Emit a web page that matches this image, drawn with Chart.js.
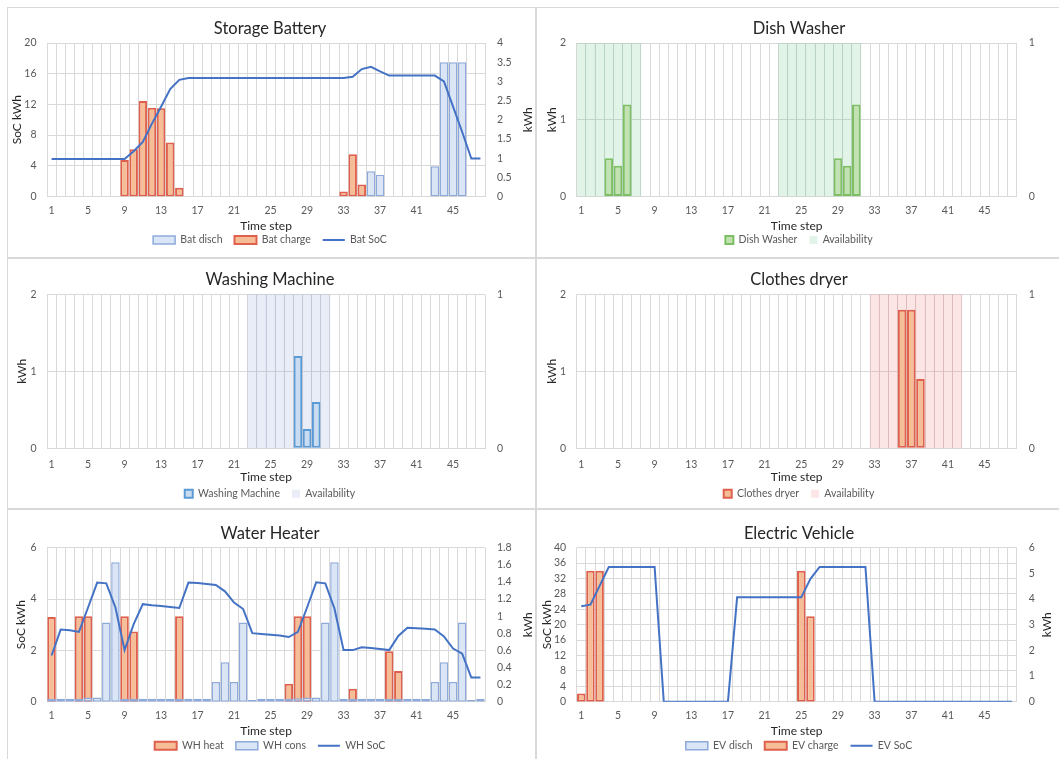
<!DOCTYPE html>
<html lang="en">
<head>
<meta charset="utf-8">
<title>Home energy schedule</title>
<script src="https://cdn.jsdelivr.net/npm/chart.js@4.4.1/dist/chart.umd.min.js"></script>
<style>
  html, body { margin: 0; padding: 0; background: #fff; overflow: hidden; }
  body { width: 1059px; height: 759px; position: relative; }
  .panel { position: absolute; width: 529px; height: 251px; background: #fff; }
  .panel canvas { position: absolute; left: 0; top: 0; }
  .panel .frame { position: absolute; left: 0; top: 0; right: 0; bottom: 0; border: 1px solid #d9d9d9; pointer-events: none; }
</style>
</head>
<body>
<div class="panel" style="left:7px;top:7px"><canvas id="c-bat" width="529" height="251"></canvas><div class="frame"></div></div>
<div class="panel" style="left:536px;top:7px"><canvas id="c-dw" width="529" height="251"></canvas><div class="frame"></div></div>
<div class="panel" style="left:7px;top:258px"><canvas id="c-wm" width="529" height="251"></canvas><div class="frame"></div></div>
<div class="panel" style="left:536px;top:258px"><canvas id="c-cd" width="529" height="251"></canvas><div class="frame"></div></div>
<div class="panel" style="left:7px;top:509px"><canvas id="c-wh" width="529" height="251"></canvas><div class="frame"></div></div>
<div class="panel" style="left:536px;top:509px"><canvas id="c-ev" width="529" height="251"></canvas><div class="frame"></div></div>
<script>
/* Household schedule: six Excel style panels over 48 time steps. */
var STEPS = ["1", "2", "3", "4", "5", "6", "7", "8", "9", "10", "11", "12",
  "13", "14", "15", "16", "17", "18", "19", "20", "21", "22", "23", "24",
  "25", "26", "27", "28", "29", "30", "31", "32", "33", "34", "35", "36",
  "37", "38", "39", "40", "41", "42", "43", "44", "45", "46", "47", "48"];

// axis ranges: [min, max, step]
var BAT_SOC_AXIS = [0, 20, 4];
var BAT_KWH_AXIS = [0, 4, 0.5];
var LOAD_AXIS = [0, 2, 1];
var AVAIL_AXIS = [0, 1, 1];
var WH_SOC_AXIS = [0, 6, 2];
var WH_KWH_AXIS = [0, 1.8, 0.2];
var EV_SOC_AXIS = [0, 40, 4];
var EV_KWH_AXIS = [0, 6, 1];

var BAT_DISCH = [0, 0, 0, 0, 0, 0, 0, 0, 0, 0, 0, 0,
  0, 0, 0, 0, 0, 0, 0, 0, 0, 0, 0, 0,
  0, 0, 0, 0, 0, 0, 0, 0, 0, 0, 0, 0.66,
  0.57, 0, 0, 0, 0, 0, 0.79, 3.5, 3.5, 3.5, 0, 0];
var BAT_CHARGE = [0, 0, 0, 0, 0, 0, 0, 0, 0.95, 1.23, 2.49, 2.31,
  2.30, 1.41, 0.23, 0, 0, 0, 0, 0, 0, 0, 0, 0,
  0, 0, 0, 0, 0, 0, 0, 0, 0.13, 1.10, 0.31, 0,
  0, 0, 0, 0, 0, 0, 0, 0, 0, 0, 0, 0];
var BAT_SOC = [4.9, 4.9, 4.9, 4.9, 4.9, 4.9, 4.9, 4.9, 4.9, 5.9, 7.1, 9.5,
  11.7, 14.0, 15.2, 15.45, 15.45, 15.45, 15.45, 15.45, 15.45, 15.45, 15.45, 15.45,
  15.45, 15.45, 15.45, 15.45, 15.45, 15.45, 15.45, 15.45, 15.45, 15.6, 16.6, 16.9,
  16.3, 15.75, 15.75, 15.75, 15.75, 15.75, 15.75, 15.0, 11.7, 8.4, 4.95, 4.95];

var DW_LOAD = [0, 0, 0, 0.5, 0.4, 1.2, 0, 0, 0, 0, 0, 0,
  0, 0, 0, 0, 0, 0, 0, 0, 0, 0, 0, 0,
  0, 0, 0, 0, 0.5, 0.4, 1.2, 0, 0, 0, 0, 0,
  0, 0, 0, 0, 0, 0, 0, 0, 0, 0, 0, 0];
var DW_AVAIL = [1, 1, 1, 1, 1, 1, 1, 0, 0, 0, 0, 0,
  0, 0, 0, 0, 0, 0, 0, 0, 0, 0, 1, 1,
  1, 1, 1, 1, 1, 1, 1, 0, 0, 0, 0, 0,
  0, 0, 0, 0, 0, 0, 0, 0, 0, 0, 0, 0];

var WM_LOAD = [0, 0, 0, 0, 0, 0, 0, 0, 0, 0, 0, 0,
  0, 0, 0, 0, 0, 0, 0, 0, 0, 0, 0, 0,
  0, 0, 0, 1.2, 0.25, 0.6, 0, 0, 0, 0, 0, 0,
  0, 0, 0, 0, 0, 0, 0, 0, 0, 0, 0, 0];
var WM_AVAIL = [0, 0, 0, 0, 0, 0, 0, 0, 0, 0, 0, 0,
  0, 0, 0, 0, 0, 0, 0, 0, 0, 0, 1, 1,
  1, 1, 1, 1, 1, 1, 1, 0, 0, 0, 0, 0,
  0, 0, 0, 0, 0, 0, 0, 0, 0, 0, 0, 0];

var CD_LOAD = [0, 0, 0, 0, 0, 0, 0, 0, 0, 0, 0, 0,
  0, 0, 0, 0, 0, 0, 0, 0, 0, 0, 0, 0,
  0, 0, 0, 0, 0, 0, 0, 0, 0, 0, 0, 1.8,
  1.8, 0.9, 0, 0, 0, 0, 0, 0, 0, 0, 0, 0];
var CD_AVAIL = [0, 0, 0, 0, 0, 0, 0, 0, 0, 0, 0, 0,
  0, 0, 0, 0, 0, 0, 0, 0, 0, 0, 0, 0,
  0, 0, 0, 0, 0, 0, 0, 0, 1, 1, 1, 1,
  1, 1, 1, 1, 1, 1, 0, 0, 0, 0, 0, 0];

var WH_HEAT = [0.99, 0, 0, 1, 1, 0, 0, 0, 1, 0.82, 0, 0,
  0, 0, 1, 0, 0, 0, 0, 0, 0, 0, 0, 0,
  0, 0, 0.21, 1, 1, 0, 0, 0, 0, 0.15, 0, 0,
  0, 0.59, 0.36, 0, 0, 0, 0, 0, 0, 0, 0, 0];
var WH_CONS = [0.035, 0.035, 0.035, 0.035, 0.05, 0.05, 0.925, 1.63, 0.035, 0.035, 0.035, 0.035,
  0.035, 0.035, 0.035, 0.035, 0.035, 0.035, 0.23, 0.46, 0.23, 0.925, 0.02, 0.035,
  0.035, 0.035, 0.035, 0.04, 0.05, 0.05, 0.925, 1.63, 0.035, 0.035, 0.035, 0.035,
  0.035, 0.035, 0.035, 0.035, 0.035, 0.035, 0.23, 0.46, 0.23, 0.925, 0.02, 0.035];
var WH_SOC = [1.80, 2.81, 2.78, 2.72, 3.67, 4.64, 4.61, 3.67, 2.01, 3.02, 3.80, 3.76,
  3.73, 3.69, 3.65, 4.64, 4.62, 4.59, 4.55, 4.30, 3.86, 3.61, 2.67, 2.64,
  2.61, 2.58, 2.52, 2.72, 3.67, 4.65, 4.61, 3.63, 2.01, 2.01, 2.12, 2.09,
  2.05, 2.01, 2.56, 2.88, 2.86, 2.84, 2.81, 2.54, 2.07, 1.87, 0.94, 0.94];

var EV_DISCH = [0, 0, 0, 0, 0, 0, 0, 0, 0, 0, 0, 0,
  0, 0, 0, 0, 0, 0, 0, 0, 0, 0, 0, 0,
  0, 0, 0, 0, 0, 0, 0, 0, 0, 0, 0, 0,
  0, 0, 0, 0, 0, 0, 0, 0, 0, 0, 0, 0];
var EV_CHARGE = [0.32, 5.1, 5.1, 0, 0, 0, 0, 0, 0, 0, 0, 0,
  0, 0, 0, 0, 0, 0, 0, 0, 0, 0, 0, 0,
  5.1, 3.33, 0, 0, 0, 0, 0, 0, 0, 0, 0, 0,
  0, 0, 0, 0, 0, 0, 0, 0, 0, 0, 0, 0];
var EV_SOC = [24.8, 25.2, 30.1, 35, 35, 35, 35, 35, 35, 0, 0, 0,
  0, 0, 0, 0, 0, 27.1, 27.1, 27.1, 27.1, 27.1, 27.1, 27.1,
  27.1, 31.9, 35, 35, 35, 35, 35, 35, 0, 0, 0, 0,
  0, 0, 0, 0, 0, 0, 0, 0, 0, 0, 0, 0];

(function () {
  "use strict";

  var INK = "#262626";
  var MUTED = "#595959";
  var GRID = "#d9d9d9";
  var FONT = "Lato, 'Open Sans', sans-serif";
  var ORANGE = { fill: "#F6BE97", line: "#E0604E", width: 2 };
  var PALE = { fill: "#DAE5F5", line: "#8EAADB", width: 1.5 };
  var GREEN = { fill: "#C2E2B3", line: "#7FBF64", width: 2 };
  var BLUE = { fill: "#C9DCF1", line: "#5B9BD5", width: 2 };
  var SOC = "#4472C4";

  var ROWS = [
    { plotT: 36, plotB: 189.5, titleY: 21.3, tickY: 203.7, xTitleY: 218.7, legendY: 233 },
    { plotT: 36.3, plotB: 190.3, titleY: 22, tickY: 206.3, xTitleY: 219.3, legendY: 235.7 },
    { plotT: 38.7, plotB: 192.7, titleY: 24.3, tickY: 206.7, xTitleY: 221.7, legendY: 236.7 }
  ];
  var COLS = [{ plotL: 40, plotR: 478 }, { plotL: 40.7, plotR: 480.7 }];
  var W = 529, H = 251;
  var TICK_SIZE = 10.5, LEGEND_SIZE = 10.5, AXIS_SIZE = 12, TITLE_SIZE = 16.5, LEGEND_PAD = 12;

  function blank(values) {
    return values.map(function (v) { return v === 0 ? null : v; });
  }
  function fmtTick(value) {
    return String(Math.round(value * 10) / 10);
  }

  function bars(label, values, look, axis, order) {
    return {
      type: "bar", label: label, data: blank(values), yAxisID: axis, order: order,
      backgroundColor: look.fill, borderColor: look.line, borderWidth: look.width,
      borderSkipped: false, grouped: false, barPercentage: 0.93, categoryPercentage: 1
    };
  }
  function avail(values, fill) {
    return {
      type: "bar", label: "Availability", data: blank(values), yAxisID: "y1", order: 5,
      backgroundColor: fill, borderColor: fill, borderWidth: 0,
      grouped: false, barPercentage: 1, categoryPercentage: 1
    };
  }
  function soc(label, values) {
    return {
      type: "line", label: label, data: values, yAxisID: "y", order: 0,
      borderColor: SOC, backgroundColor: SOC, borderWidth: 2,
      pointRadius: 0, pointHoverRadius: 0, tension: 0
    };
  }

  function legendItems(chart) {
    var items = Chart.defaults.plugins.legend.labels.generateLabels(chart);
    items.forEach(function (item) {
      var set = chart.data.datasets[item.datasetIndex];
      item.pointStyle = set.type === "line" ? "line" : "rect";
      item.rotation = 0;
    });
    return items.sort(function (a, b) { return a.datasetIndex - b.datasetIndex; });
  }

  var rightTitle = {
    id: "rightTitle",
    afterDraw: function (chart, args, opts) {
      if (!opts || !opts.text) return;
      var area = chart.chartArea;
      var ctx = chart.ctx;
      ctx.save();
      ctx.translate(opts.x, (area.top + area.bottom) / 2);
      ctx.rotate(-Math.PI / 2);
      ctx.font = AXIS_SIZE + "px " + FONT;
      ctx.fillStyle = INK;
      ctx.textAlign = "center";
      ctx.textBaseline = "middle";
      ctx.fillText(opts.text, 0, 0);
      ctx.restore();
    }
  };

  function yAxis(range, side, geo, extra) {
    var axis = {
      position: side, min: range[0], max: range[1],
      ticks: {
        stepSize: range[2], autoSkip: false, padding: side === "left" ? 10.5 : 12,
        color: MUTED, font: { size: TICK_SIZE }, callback: fmtTick
      },
      grid: { display: side === "left", color: GRID, lineWidth: 1, drawTicks: false },
      border: { display: false }
    };
    if (side === "left") {
      axis.title = {
        display: true, text: extra.leftTitle, color: INK, font: { size: AXIS_SIZE },
        padding: { top: extra.leftTitleX - AXIS_SIZE * 0.6, bottom: 0 }
      };
      axis.afterFit = function (scale) { scale.width = geo.plotL; };
    } else {
      axis.afterFit = function (scale) { scale.width = W - 3 - geo.plotR; };
    }
    return axis;
  }

  function draw(id, spec) {
    var geo = Object.assign({}, ROWS[spec.row], COLS[spec.col]);
    var titleLH = TITLE_SIZE * 1.2;
    var padB = H - geo.legendY - 10 - LEGEND_SIZE / 2;
    var legendTop = H - padB - (LEGEND_SIZE + LEGEND_PAD + 10);
    return new Chart(document.getElementById(id), {
      type: "bar",
      data: { labels: STEPS, datasets: spec.datasets },
      plugins: [rightTitle],
      options: {
        responsive: false,
        animation: false,
        devicePixelRatio: 1,
        events: [],
        layout: { padding: { top: 0, left: 0, right: 3, bottom: padB } },
        plugins: {
          title: {
            display: true, text: spec.title, color: INK,
            font: { size: TITLE_SIZE, weight: "normal" },
            padding: { top: geo.titleY - titleLH / 2, bottom: geo.plotT - geo.titleY - titleLH / 2 }
          },
          legend: {
            position: "bottom",
            labels: {
              color: MUTED, font: { size: LEGEND_SIZE }, padding: LEGEND_PAD,
              usePointStyle: true, pointStyleWidth: spec.legendBox[0], boxHeight: spec.legendBox[1],
              generateLabels: legendItems
            }
          },
          tooltip: { enabled: false },
          rightTitle: { text: spec.rightTitle, x: spec.rightTitleX }
        },
        scales: {
          x: {
            offset: true,
            grid: { offset: true, color: GRID, lineWidth: 1, drawTicks: false },
            border: { display: true, color: GRID },
            ticks: {
              autoSkip: false, maxRotation: 0, color: MUTED, font: { size: TICK_SIZE },
              padding: geo.tickY - geo.plotB - TICK_SIZE * 0.6,
              callback: function (value, index) { return index % 4 === 0 ? STEPS[index] : ""; }
            },
            title: {
              display: true, text: "Time step", color: INK, font: { size: AXIS_SIZE },
              padding: { top: 0, bottom: legendTop - geo.xTitleY - AXIS_SIZE * 0.6 }
            },
            afterFit: function (scale) { scale.height = legendTop - geo.plotB; }
          },
          y: yAxis(spec.left, "left", geo, spec),
          y1: yAxis(spec.right, "right", geo, spec)
        }
      }
    });
  }

  function render() {
    Chart.defaults.font.family = FONT;
    Chart.defaults.color = MUTED;

    draw("c-bat", {
      row: 0, col: 0, title: "Storage Battery", left: BAT_SOC_AXIS, right: BAT_KWH_AXIS,
      leftTitle: "SoC kWh", leftTitleX: 10.5, rightTitle: "kWh", rightTitleX: 521.5, legendBox: [22, 8],
      datasets: [
        bars("Bat disch", BAT_DISCH, PALE, "y1", 2),
        bars("Bat charge", BAT_CHARGE, ORANGE, "y1", 2),
        soc("Bat SoC", BAT_SOC)
      ]
    });
    draw("c-dw", {
      row: 0, col: 1, title: "Dish Washer", left: LOAD_AXIS, right: AVAIL_AXIS,
      leftTitle: "kWh", leftTitleX: 15.7, legendBox: [8, 8],
      datasets: [
        bars("Dish Washer", DW_LOAD, GREEN, "y", 1),
        avail(DW_AVAIL, "rgba(112,200,140,0.2)")
      ]
    });
    draw("c-wm", {
      row: 1, col: 0, title: "Washing Machine", left: LOAD_AXIS, right: AVAIL_AXIS,
      leftTitle: "kWh", leftTitleX: 14.7, legendBox: [8, 8],
      datasets: [
        bars("Washing Machine", WM_LOAD, BLUE, "y", 1),
        avail(WM_AVAIL, "rgba(140,165,215,0.2)")
      ]
    });
    draw("c-cd", {
      row: 1, col: 1, title: "Clothes dryer", left: LOAD_AXIS, right: AVAIL_AXIS,
      leftTitle: "kWh", leftTitleX: 15.7, legendBox: [8, 8],
      datasets: [
        bars("Clothes dryer", CD_LOAD, ORANGE, "y", 1),
        avail(CD_AVAIL, "rgba(240,110,110,0.18)")
      ]
    });
    draw("c-wh", {
      row: 2, col: 0, title: "Water Heater", left: WH_SOC_AXIS, right: WH_KWH_AXIS,
      leftTitle: "SoC kWh", leftTitleX: 14.2, rightTitle: "kWh", rightTitleX: 521.5, legendBox: [22, 8],
      datasets: [
        bars("WH heat", WH_HEAT, ORANGE, "y1", 3),
        bars("WH cons", WH_CONS, PALE, "y1", 2),
        soc("WH SoC", WH_SOC)
      ]
    });
    draw("c-ev", {
      row: 2, col: 1, title: "Electric Vehicle", left: EV_SOC_AXIS, right: EV_KWH_AXIS,
      leftTitle: "SoC kWh", leftTitleX: 11, rightTitle: "kWh", rightTitleX: 511.5, legendBox: [22, 8],
      datasets: [
        bars("EV disch", EV_DISCH, PALE, "y1", 2),
        bars("EV charge", EV_CHARGE, ORANGE, "y1", 2),
        soc("EV SoC", EV_SOC)
      ]
    });
  }

  if (document.fonts && document.fonts.load) {
    document.fonts.load("12px Lato").then(render, render);
  } else {
    render();
  }
})();
</script>
</body>
</html>
